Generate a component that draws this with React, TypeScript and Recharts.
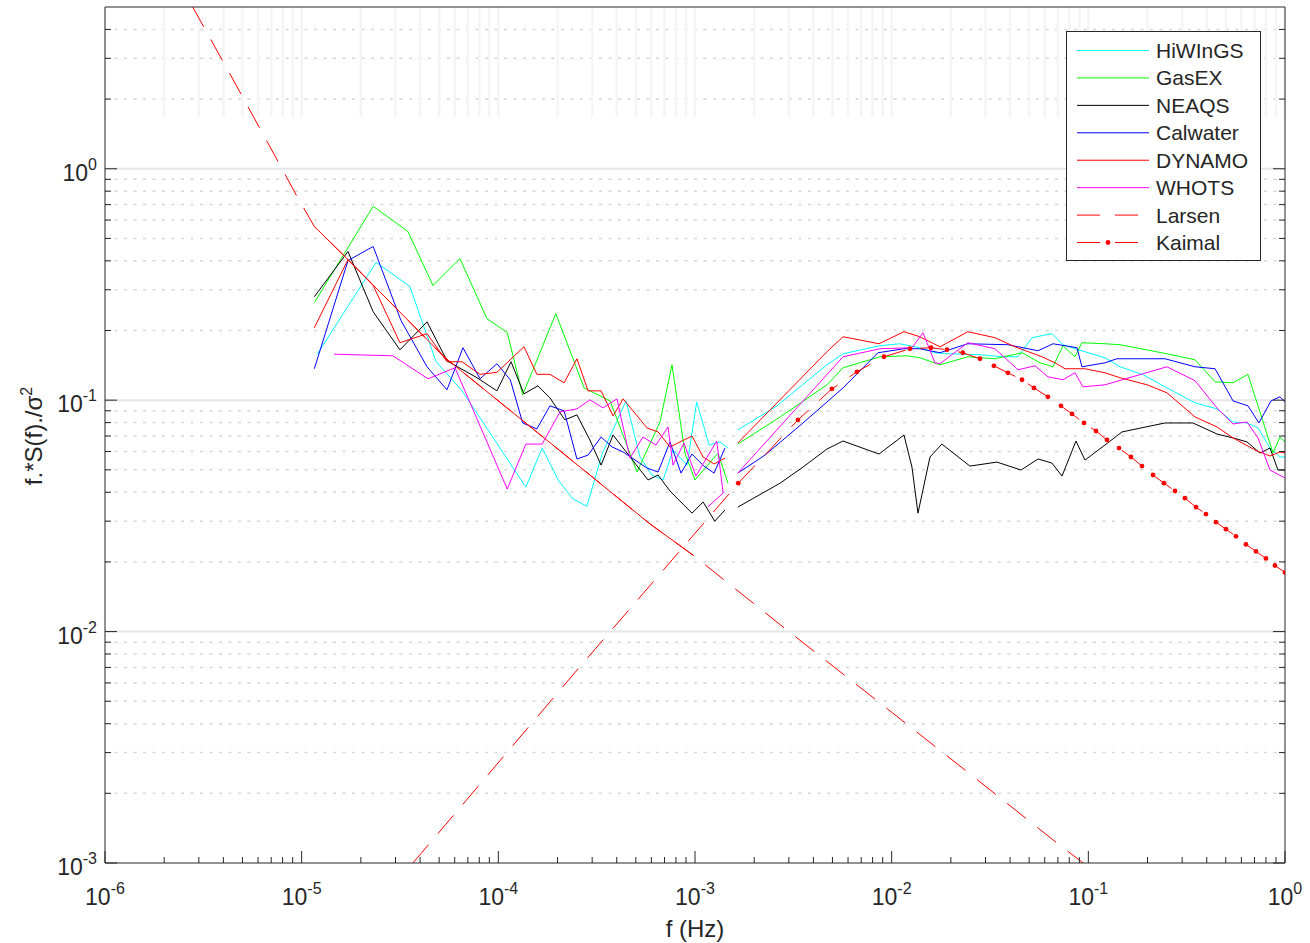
import React from "react"
import { ComposedChart, Line, XAxis, YAxis, CartesianGrid, ReferenceLine } from "recharts"

type P = [number, number]

// f (Hz), f*S(f)/sigma^2 — low-frequency block
const hiwingsLow: P[] = [
  [1.2e-5, 0.158], [2.39e-5, 0.394], [3.55e-5, 0.31], [4.82e-5, 0.147], [6.53e-5, 0.11],
  [1.38e-4, 0.0421], [1.67e-4, 0.0621], [2.03e-4, 0.0447], [2.4e-4, 0.0374], [2.82e-4, 0.0348],
  [3.37e-4, 0.0585], [4.46e-4, 0.0993], [5.25e-4, 0.0568], [6.04e-4, 0.0475], [6.88e-4, 0.0452],
  [7.73e-4, 0.0609], [9.11e-4, 0.0524], [1.02e-3, 0.0983], [1.18e-3, 0.064], [1.34e-3, 0.066],
  [1.47e-3, 0.0621],
]
const gasexLow: P[] = [
  [1.16e-5, 0.264], [2.31e-5, 0.688], [3.47e-5, 0.536], [4.65e-5, 0.313], [6.38e-5, 0.409],
  [8.75e-5, 0.225], [1.11e-4, 0.196], [1.33e-4, 0.1054], [1.96e-4, 0.2365], [2.73e-4, 0.113],
  [3.7e-4, 0.0993], [5.07e-4, 0.0489], [6.64e-4, 0.0805], [7.64e-4, 0.1422], [8.89e-4, 0.0591],
  [1.0e-3, 0.0452], [1.31e-3, 0.0591], [1.47e-3, 0.0438],
]
const neaqsLow: P[] = [
  [1.16e-5, 0.28], [1.72e-5, 0.439], [2.31e-5, 0.241], [3.16e-5, 0.165], [4.34e-5, 0.218],
  [5.48e-5, 0.148], [7.79e-5, 0.125], [9.84e-5, 0.1097], [1.16e-4, 0.1466], [1.35e-4, 0.1065],
  [1.59e-4, 0.1153], [1.83e-4, 0.1023], [2.18e-4, 0.0822], [2.51e-4, 0.0864], [2.92e-4, 0.0673],
  [3.33e-4, 0.0524], [3.83e-4, 0.0707], [5.77e-4, 0.0452], [6.49e-4, 0.0475], [7.46e-4, 0.0405],
  [9.65e-4, 0.0325], [1.1e-3, 0.0363], [1.26e-3, 0.03], [1.42e-3, 0.0335],
]
const calwaterLow: P[] = [
  [1.16e-5, 0.1367], [1.72e-5, 0.401], [2.31e-5, 0.4615], [3.2e-5, 0.2207], [4.34e-5, 0.1394],
  [5.48e-5, 0.1108], [6.61e-5, 0.1685], [8.07e-5, 0.1237], [9.84e-5, 0.1437], [1.15e-4, 0.1225],
  [1.33e-4, 0.0797], [1.57e-4, 0.0751], [1.83e-4, 0.0945], [2.16e-4, 0.0899], [2.51e-4, 0.0557],
  [2.86e-4, 0.0579], [3.33e-4, 0.0693], [3.79e-4, 0.0628], [4.31e-4, 0.0597], [5.7e-4, 0.0509],
  [6.49e-4, 0.0489], [7.46e-4, 0.066], [8.49e-4, 0.0484], [9.65e-4, 0.0585], [1.11e-3, 0.0519],
  [1.25e-3, 0.0484], [1.42e-3, 0.0621],
]
const dynamoLow: P[] = [
  [1.16e-5, 0.2056], [1.72e-5, 0.405], [2.31e-5, 0.313], [3.16e-5, 0.1771], [4.34e-5, 0.1938],
  [5.48e-5, 0.1466], [6.53e-5, 0.1466], [8.07e-5, 0.1293], [9.84e-5, 0.1319], [1.35e-4, 0.1702],
  [1.57e-4, 0.1293], [1.83e-4, 0.1293], [2.16e-4, 0.1189], [2.51e-4, 0.151], [2.86e-4, 0.1097],
  [3.33e-4, 0.1097], [3.83e-4, 0.0855], [4.31e-4, 0.1013], [5.7e-4, 0.0759], [6.49e-4, 0.0729],
  [7.46e-4, 0.0628], [9.65e-4, 0.07], [1.1e-3, 0.0568], [1.25e-3, 0.053], [1.42e-3, 0.0562],
]
const whotsLow: P[] = [
  [1.46e-5, 0.158], [2.91e-5, 0.1555], [4.39e-5, 0.1237], [6.02e-5, 0.138], [1.11e-4, 0.0413],
  [1.38e-4, 0.0646], [1.67e-4, 0.0646], [2.06e-4, 0.089], [2.51e-4, 0.0917], [2.92e-4, 0.1003],
  [3.41e-4, 0.0926], [4.01e-4, 0.1013], [4.67e-4, 0.0562], [5.44e-4, 0.0693], [6.33e-4, 0.064],
  [7.29e-4, 0.0766], [7.73e-4, 0.0524], [8.79e-4, 0.0653], [1.01e-3, 0.047], [1.29e-3, 0.0666],
  [1.39e-3, 0.0397], [1.16e-3, 0.0345],
]

// high-frequency block
const hiwingsHigh: P[] = [
  [1.65e-3, 0.0743], [2.61e-3, 0.0945], [4.69e-3, 0.1422], [5.66e-3, 0.1587], [8.72e-3, 0.1719],
  [1.1e-2, 0.1753], [1.39e-2, 0.1685], [1.66e-2, 0.1603], [1.93e-2, 0.1587], [2.88e-2, 0.1571],
  [3.64e-2, 0.154], [4.39e-2, 0.154], [5.17e-2, 0.1862], [6.53e-2, 0.1938], [7.43e-2, 0.1736],
  [8.86e-2, 0.1652], [0.1215, 0.1525], [0.145, 0.1394], [0.19, 0.1287], [0.251, 0.113],
  [0.349, 0.0973], [0.451, 0.0917], [0.544, 0.0805], [0.641, 0.0797], [0.729, 0.0759],
  [0.839, 0.0621], [0.943, 0.0568], [1.0, 0.0568],
]
const gasexHigh: P[] = [
  [1.65e-3, 0.0646], [2.71e-3, 0.0846], [4.69e-3, 0.1165], [5.66e-3, 0.138], [8.72e-3, 0.154],
  [1.197e-2, 0.1555], [1.39e-2, 0.1525], [1.76e-2, 0.1422], [2.44e-2, 0.154], [3.35e-2, 0.151],
  [4.6e-2, 0.1603], [5.68e-2, 0.145], [6.61e-2, 0.1394], [7.43e-2, 0.1719], [8.55e-2, 0.154],
  [9.28e-2, 0.1771], [0.1215, 0.1753], [0.145, 0.1736], [0.251, 0.1587], [0.349, 0.1495],
  [0.441, 0.12], [0.544, 0.1189], [0.648, 0.1293], [0.869, 0.0591], [0.943, 0.0693], [1.0, 0.066],
]
const neaqsHigh: P[] = [
  [1.65e-3, 0.0345], [2.71e-3, 0.0438], [3.54e-3, 0.0514], [4.69e-3, 0.0615], [5.66e-3, 0.0666],
  [8.62e-3, 0.0585], [1.155e-2, 0.0707], [1.268e-2, 0.0514], [1.361e-2, 0.0325], [1.566e-2, 0.0568],
  [1.8e-2, 0.0646], [2.5e-2, 0.0519], [3.43e-2, 0.054], [4.55e-2, 0.0499], [5.55e-2, 0.0557],
  [6.53e-2, 0.0535], [7.35e-2, 0.047], [8.65e-2, 0.0666], [9.62e-2, 0.0551], [0.1215, 0.064],
  [0.1483, 0.0729], [0.2454, 0.0797], [0.3404, 0.0797], [0.451, 0.0714], [0.544, 0.0687],
  [0.641, 0.066], [0.746, 0.0591], [0.839, 0.0621], [0.921, 0.0499], [1.0, 0.0499],
]
const calwaterHigh: P[] = [
  [1.65e-3, 0.0484], [2.27e-3, 0.0579], [3.54e-3, 0.0797], [5.66e-3, 0.113], [8.52e-3, 0.1603],
  [1.155e-2, 0.1668], [1.39e-2, 0.1668], [1.76e-2, 0.1603], [2.44e-2, 0.1753], [3.9e-2, 0.1736],
  [5.55e-2, 0.1635], [6.61e-2, 0.1753], [8.76e-2, 0.1685], [9.28e-2, 0.1394], [0.1215, 0.145],
  [0.1398, 0.151], [0.2454, 0.151], [0.349, 0.1394], [0.441, 0.1367], [0.544, 0.0993],
  [0.648, 0.0945], [0.737, 0.0797], [0.849, 0.0993], [0.943, 0.1034], [1.0, 0.0983],
]
const dynamoHigh: P[] = [
  [1.65e-3, 0.0653], [4.69e-3, 0.162], [5.66e-3, 0.188], [8.62e-3, 0.1753], [1.155e-2, 0.1976],
  [1.39e-2, 0.188], [1.76e-2, 0.17], [2.44e-2, 0.1976], [3.35e-2, 0.1862], [4.24e-2, 0.17],
  [5.81e-2, 0.154], [6.77e-2, 0.145], [7.61e-2, 0.1367], [9.62e-2, 0.1367], [0.1215, 0.1313],
  [0.145, 0.125], [0.199, 0.1165], [0.251, 0.1076], [0.349, 0.0846], [0.451, 0.0766],
  [0.544, 0.0687], [0.72, 0.0603], [0.839, 0.0574], [0.943, 0.0597], [1.0, 0.0591],
]
const whotsHigh: P[] = [
  [1.65e-3, 0.0484], [5.66e-3, 0.154], [8.72e-3, 0.1668], [1.27e-2, 0.1685], [1.443e-2, 0.1956],
  [1.66e-2, 0.145], [1.76e-2, 0.1437], [2.44e-2, 0.1771], [3.35e-2, 0.1668], [4.39e-2, 0.1353],
  [5.36e-2, 0.1408], [6.23e-2, 0.1262], [7.43e-2, 0.1225], [8.55e-2, 0.1313], [9.39e-2, 0.1142],
  [0.1215, 0.1165], [0.251, 0.1394], [0.349, 0.1213], [0.451, 0.0926], [0.544, 0.0789],
  [0.641, 0.0805], [0.729, 0.0687], [0.839, 0.0499], [1.0, 0.0461],
]

// model curves
const larsen: P[] = [
  [2.77e-6, 5.06], [4.32e-6, 2.567], [6.66e-6, 1.315], [9.47e-6, 0.76], [1.16e-5, 0.563],
  [1.72e-5, 0.405], [5.36e-5, 0.1525], [2.92e-4, 0.0475], [5.9e-4, 0.0292], [9.77e-4, 0.0214],
  [2.87e-3, 0.01031], [8.42e-3, 5.03e-3], [2.42e-2, 2.48e-3], [6.93e-2, 1.22e-3], [9.62e-2, 9.86e-4],
]
const larsenInBand: P[] = [
  [1.16e-5, 0.563], [1.72e-5, 0.405], [5.36e-5, 0.1525], [2.92e-4, 0.0475], [5.9e-4, 0.0292],
  [9.77e-4, 0.0214],
]
const kaimal: P[] = [
  [3.68e-5, 1.0e-3], [2.45e-4, 6.65e-3], [1.66e-3, 0.0438], [3.34e-3, 0.0822], [4.97e-3, 0.1119],
  [6.66e-3, 0.1326], [9.14e-3, 0.154], [1.239e-2, 0.1668], [1.585e-2, 0.1685], [1.91e-2, 0.1652],
  [2.3e-2, 0.1603], [2.81e-2, 0.151], [3.31e-2, 0.1408], [3.9e-2, 0.1313], [4.6e-2, 0.1225],
  [5.29e-2, 0.113], [6.23e-2, 0.1034], [7.26e-2, 0.0945], [8.26e-2, 0.0872], [9.5e-2, 0.0797],
  [0.1094, 0.0736], [0.1244, 0.0673], [0.1432, 0.0621], [0.1647, 0.0568], [0.1874, 0.0519],
  [0.2132, 0.0475], [0.2424, 0.0438], [0.2758, 0.0405], [0.31, 0.0377], [0.3527, 0.0345],
  [0.3964, 0.0322], [0.4457, 0.0297], [0.501, 0.0277], [0.563, 0.0258], [0.633, 0.0238],
  [0.712, 0.0222], [0.8, 0.0207], [0.889, 0.0193], [1.0, 0.018],
]
const kaimalMarkerFrom = 1.6e-3

const xDecades = [1e-6, 1e-5, 1e-4, 1e-3, 1e-2, 1e-1, 1]
const yDecades = [1e-3, 1e-2, 1e-1, 1]
const minorSteps = [2, 3, 4, 5, 6, 7, 8, 9]
const yMax = 5

const xTicks = [...xDecades.slice(0, -1).flatMap((d) => [d, ...minorSteps.map((k) => k * d)]), 1]
const yTicks = [
  ...yDecades.slice(0, -1).flatMap((d) => [d, ...minorSteps.map((k) => k * d)]),
  1,
  ...minorSteps.filter((k) => k < yMax),
]
const yMinor = yTicks.filter((v) => !yDecades.includes(v))
const yMajorGrid = yDecades.slice(1)

const FONT = "'Liberation Sans', Arial, Helvetica, sans-serif"
const AX = "#262626"
const TICK_FS = 23
const SUP_FS = 16

const series = [
  { name: "HiWInGS", color: "#00ffff", parts: [hiwingsLow, hiwingsHigh] },
  { name: "GasEX", color: "#00ff00", parts: [gasexLow, gasexHigh] },
  { name: "NEAQS", color: "#000000", parts: [neaqsLow, neaqsHigh] },
  { name: "Calwater", color: "#0000ff", parts: [calwaterLow, calwaterHigh] },
  { name: "DYNAMO", color: "#ff0000", parts: [dynamoLow, dynamoHigh] },
  { name: "WHOTS", color: "#ff00ff", parts: [whotsLow, whotsHigh] },
]

const toPts = (arr: P[]) => arr.map(([f, v]) => ({ f, v }))
const isMajor = (v: number) => Math.abs(Math.log10(v) - Math.round(Math.log10(v))) < 1e-6
const expOf = (v: number) => Math.round(Math.log10(v))

const BottomTick = (props: any) => {
  const { x, y, payload } = props
  const major = isMajor(payload.value)
  return (
    <g>
      <line x1={x} x2={x} y1={y} y2={y - (major ? 12 : 6)} stroke={AX} />
      {major && (
        <text x={x} y={y + 42} textAnchor="middle" fontSize={TICK_FS} fill={AX} fontFamily={FONT}>
          10<tspan dy={-11} fontSize={SUP_FS}>{expOf(payload.value)}</tspan>
        </text>
      )}
    </g>
  )
}
const TopTick = (props: any) => {
  const { x, y, payload } = props
  const major = isMajor(payload.value)
  return <line x1={x} x2={x} y1={y} y2={y + (major ? 12 : 6)} stroke={AX} />
}
const LeftTick = (props: any) => {
  const { x, y, payload } = props
  const major = isMajor(payload.value)
  return (
    <g>
      <line x1={x} x2={x + (major ? 12 : 6)} y1={y} y2={y} stroke={AX} />
      {major && (
        <text x={x - 8} y={y + 12} textAnchor="end" fontSize={TICK_FS} fill={AX} fontFamily={FONT}>
          10<tspan dy={-11} fontSize={SUP_FS}>{expOf(payload.value)}</tspan>
        </text>
      )}
    </g>
  )
}
const RightTick = (props: any) => {
  const { x, y, payload } = props
  const major = isMajor(payload.value)
  return <line x1={x} x2={x - (major ? 12 : 6)} y1={y} y2={y} stroke={AX} />
}

const kaimalDot = (props: any) => {
  const { cx, cy, payload, index } = props
  if (payload.f < kaimalMarkerFrom) return <g key={`kd${index}`} />
  return <circle key={`kd${index}`} cx={cx} cy={cy} r={2.4} fill="#ff0000" stroke="none" />
}

const DASH = "24 14.5"

const legendItems = [
  ...series.map((s) => ({ name: s.name, color: s.color, kind: "solid" })),
  { name: "Larsen", color: "#ff0000", kind: "dash" },
  { name: "Kaimal", color: "#ff0000", kind: "dashdot" },
]

const ChartLegend = () => (
  <svg width={196} height={231} style={{ position: "absolute", left: 1066, top: 31 }}>
    <rect x={0.5} y={0.5} width={194} height={229} fill="#ffffff" stroke={AX} strokeWidth={1} />
    {legendItems.map((it, i) => {
      const cy = 19.5 + i * 27.43
      return (
        <g key={it.name}>
          {it.kind === "solid" && <line x1={11} x2={83} y1={cy} y2={cy} stroke={it.color} strokeWidth={1} />}
          {it.kind !== "solid" && (
            <g>
              <line x1={11} x2={34} y1={cy} y2={cy} stroke={it.color} strokeWidth={1} />
              <line x1={49} x2={72} y1={cy} y2={cy} stroke={it.color} strokeWidth={1} />
            </g>
          )}
          {it.kind === "dashdot" && <circle cx={42} cy={cy} r={2.4} fill={it.color} />}
          <text x={90} y={cy + 7.5} fontSize={21} fill={AX} fontFamily={FONT}>
            {it.name}
          </text>
        </g>
      )
    })}
  </svg>
)

export default function App() {
  return (
    <div style={{ position: "absolute", left: 0, top: 0, width: 1310, height: 943, background: "#fff" }}>
      <ComposedChart width={1310} height={943} margin={{ top: 0, right: 0, bottom: 0, left: 0 }}>
        <CartesianGrid
          xAxisId="b"
          yAxisId="l"
          vertical={false}
          stroke="#d6d6d6"
          strokeWidth={1.5}
          strokeDasharray="3 6.5"
          horizontalValues={yMinor}
        />
        <CartesianGrid
          xAxisId="b"
          yAxisId="l"
          vertical={false}
          stroke="#e6e6e6"
          strokeWidth={2}
          horizontalValues={yMajorGrid}
        />
        {xTicks.map((t) => (
          <ReferenceLine
            key={`vb${t}`}
            xAxisId="b"
            yAxisId="l"
            segment={[{ x: t, y: 1.67 }, { x: t, y: yMax }]}
            stroke="#f5f5f5"
            strokeWidth={2.5}
          />
        ))}
        <XAxis
          xAxisId="b"
          dataKey="f"
          type="number"
          scale="log"
          domain={[1e-6, 1]}
          allowDataOverflow
          ticks={xTicks}
          interval={0}
          height={80}
          tickSize={0}
          tickMargin={0}
          tick={(p: any) => <BottomTick {...p} />}
          axisLine={{ stroke: AX }}
          tickLine={false}
          label={{
            content: () => (
              <text x={695} y={937} textAnchor="middle" fontSize={24} fill={AX} fontFamily={FONT}>
                f (Hz)
              </text>
            ),
          }}
        />
        <XAxis
          xAxisId="t"
          orientation="top"
          type="number"
          scale="log"
          domain={[1e-6, 1]}
          allowDataOverflow
          ticks={xTicks}
          interval={0}
          height={7}
          tickSize={0}
          tickMargin={0}
          tick={(p: any) => <TopTick {...p} />}
          axisLine={{ stroke: AX }}
          tickLine={false}
        />
        <YAxis
          yAxisId="l"
          type="number"
          scale="log"
          domain={[1e-3, yMax]}
          allowDataOverflow
          ticks={yTicks}
          interval={0}
          width={105}
          tickSize={0}
          tickMargin={0}
          tick={(p: any) => <LeftTick {...p} />}
          axisLine={{ stroke: AX }}
          tickLine={false}
          label={{
            content: () => (
              <text
                transform="translate(42,436) rotate(-90)"
                textAnchor="middle"
                fontSize={24}
                fill={AX}
                fontFamily={FONT}
              >
                f.*S(f)./σ<tspan dy={-10} fontSize={16}>2</tspan>
              </text>
            ),
          }}
        />
        <YAxis
          yAxisId="r"
          orientation="right"
          type="number"
          scale="log"
          domain={[1e-3, yMax]}
          allowDataOverflow
          ticks={yTicks}
          interval={0}
          width={25}
          tickSize={0}
          tickMargin={0}
          tick={(p: any) => <RightTick {...p} />}
          axisLine={{ stroke: AX }}
          tickLine={false}
        />
        {series.flatMap((s) =>
          s.parts.map((part, i) => (
            <Line
              key={`${s.name}-${i}`}
              xAxisId="b"
              yAxisId="l"
              data={toPts(part)}
              dataKey="v"
              type="linear"
              stroke={s.color}
              strokeWidth={1}
              dot={false}
              activeDot={false}
              isAnimationActive={false}
            />
          ))
        )}
        <Line
          xAxisId="b"
          yAxisId="l"
          data={toPts(larsen)}
          dataKey="v"
          type="linear"
          stroke="#ff0000"
          strokeWidth={1}
          strokeDasharray={DASH}
          dot={false}
          activeDot={false}
          isAnimationActive={false}
        />
        <Line
          xAxisId="b"
          yAxisId="l"
          data={toPts(larsenInBand)}
          dataKey="v"
          type="linear"
          stroke="#ff0000"
          strokeWidth={1}
          dot={false}
          activeDot={false}
          isAnimationActive={false}
        />
        <Line
          xAxisId="b"
          yAxisId="l"
          data={toPts(kaimal)}
          dataKey="v"
          type="linear"
          stroke="#ff0000"
          strokeWidth={1}
          strokeDasharray={DASH}
          dot={kaimalDot}
          activeDot={false}
          isAnimationActive={false}
        />
      </ComposedChart>
      <ChartLegend />
    </div>
  )
}
